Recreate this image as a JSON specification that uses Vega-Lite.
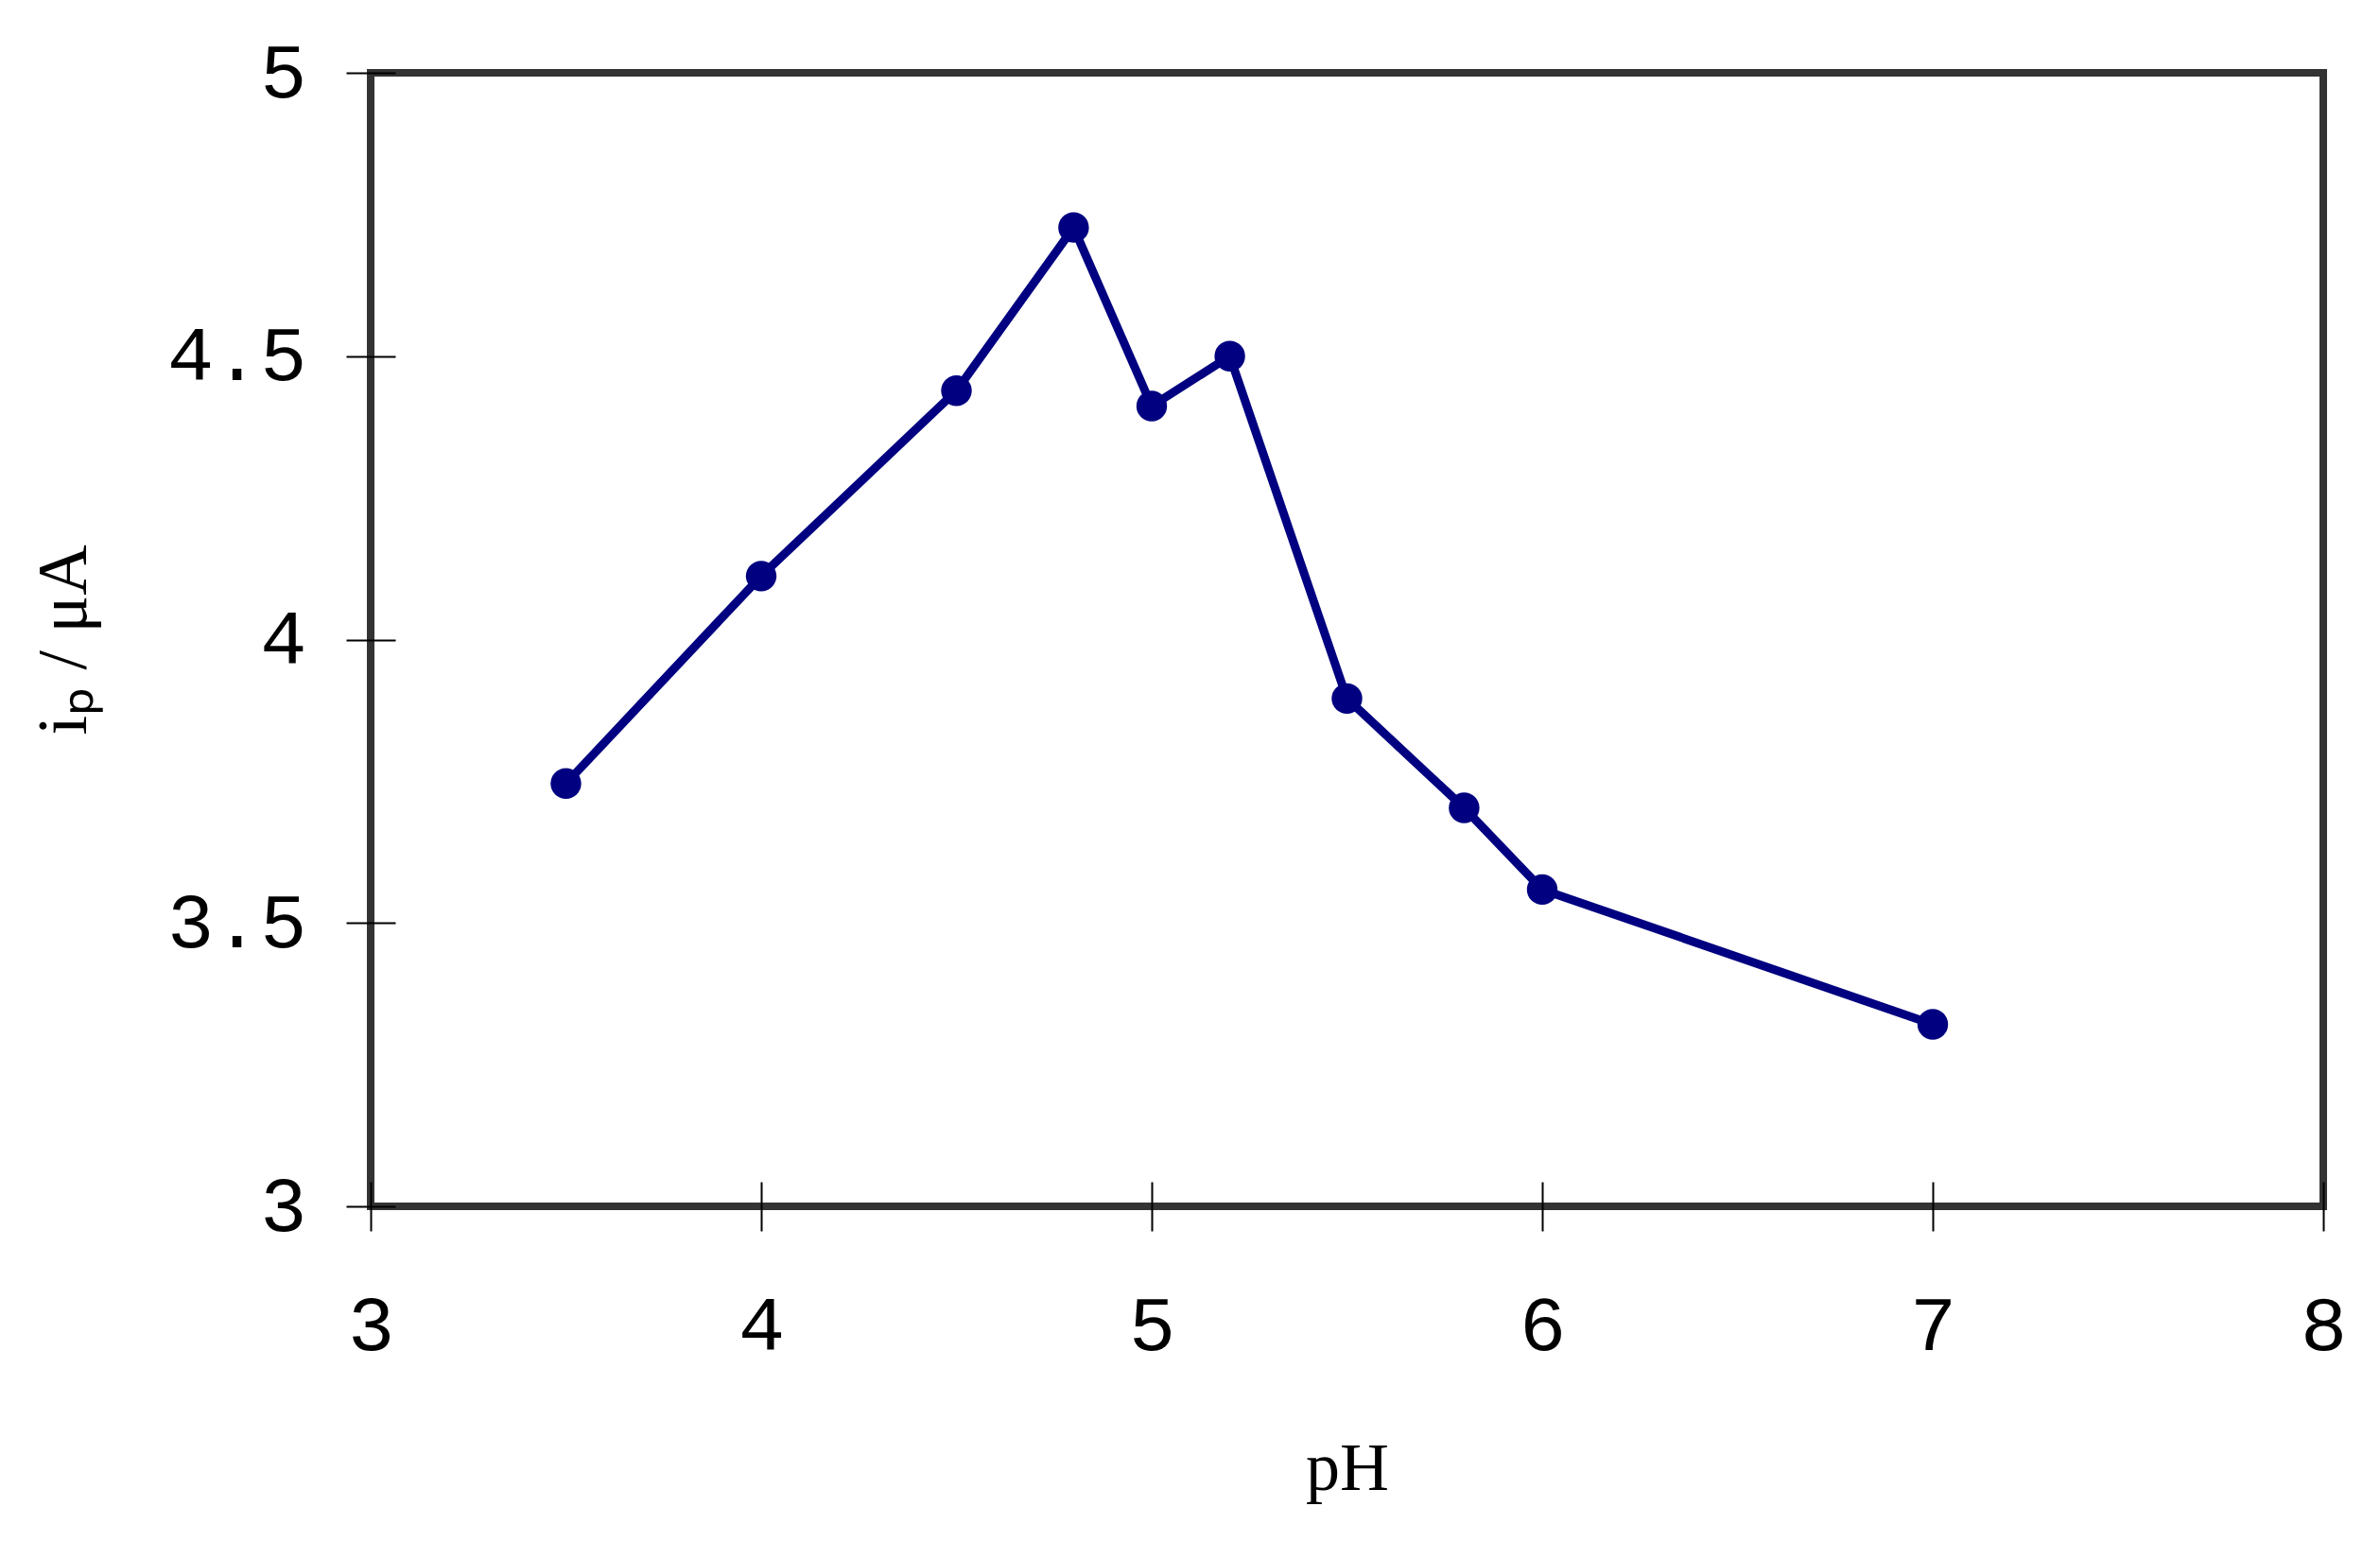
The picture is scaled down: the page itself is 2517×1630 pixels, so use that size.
{
  "$schema": "https://vega.github.io/schema/vega-lite/v6.json",
  "autosize": {"type": "none"},
  "width": 2065,
  "height": 1199,
  "padding": {"left": 392, "top": 77, "right": 60, "bottom": 354},
  "background": "white",
  "config": {
    "view": {"stroke": "#333333", "strokeWidth": 8},
    "axis": {
      "domain": false,
      "grid": false,
      "ticks": true,
      "tickSize": 52,
      "offset": -26,
      "tickColor": "#000000",
      "tickWidth": 2,
      "labelFont": "Liberation Mono",
      "labelFontSize": 82,
      "labelColor": "#000000",
      "labelFlush": false,
      "labelOverlap": false,
      "titleFont": "Liberation Serif",
      "titleFontSize": 74,
      "titleFontWeight": "normal",
      "titleColor": "#000000"
    }
  },
  "data": {
    "values": [
      {"pH": 3.5, "ip": 3.746},
      {"pH": 4.0, "ip": 4.112},
      {"pH": 4.5, "ip": 4.439},
      {"pH": 4.8, "ip": 4.727},
      {"pH": 5.0, "ip": 4.412},
      {"pH": 5.2, "ip": 4.5},
      {"pH": 5.5, "ip": 3.896},
      {"pH": 5.8, "ip": 3.703},
      {"pH": 6.0, "ip": 3.559},
      {"pH": 7.0, "ip": 3.321}
    ]
  },
  "encoding": {
    "x": {
      "field": "pH",
      "type": "quantitative",
      "scale": {"domain": [3, 8], "nice": false, "zero": false},
      "axis": {"values": [3, 4, 5, 6, 7, 8], "title": "pH", "labelPadding": 60, "titlePadding": 75, "format": "d", "titleFontSize": 72}
    },
    "y": {
      "field": "ip",
      "type": "quantitative",
      "scale": {"domain": [3, 5], "nice": false, "zero": false},
      "axis": {"values": [3, 3.5, 4, 4.5, 5], "title": "iₚ / μA", "labelPadding": 42, "titlePadding": 112, "format": "~g"}
    }
  },
  "layer": [
    {"mark": {"type": "line", "color": "#000080", "strokeWidth": 9, "strokeJoin": "round"}},
    {"mark": {"type": "point", "filled": true, "color": "#000080", "size": 1050, "opacity": 1}}
  ]
}
